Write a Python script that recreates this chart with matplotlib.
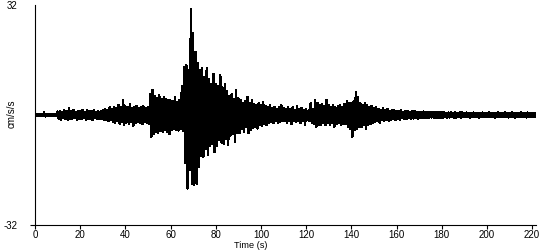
import numpy as np
import matplotlib
matplotlib.use("Agg")
import matplotlib.pyplot as plt

# envelope of the record, read at 1 s steps (cm/s/s)
time_s = np.arange(0, 222)

upper = [
    0.3, 0.3, 0.3, 0.3, 0.7, 0.3, 0.3, 0.3, 0.3, 0.3,
    1.0, 1.2, 0.9, 1.3, 1.1, 2.0, 1.0, 1.4, 0.9, 1.2,
    1.1, 1.5, 0.9, 1.3, 1.0, 1.2, 1.4, 0.9, 1.1, 1.0,
    1.4, 1.8, 1.3, 2.2, 1.6, 2.4, 2.0, 3.0, 2.2, 4.4,
    2.5, 2.2, 3.1, 2.0, 2.4, 2.6, 1.9, 2.3, 2.5, 2.0,
    2.4, 6.0, 7.3, 5.5, 4.8, 5.8, 4.6, 5.2, 4.5, 4.4,
    4.2, 4.0, 5.3, 3.8, 4.4, 8.4, 14.0, 14.5, 13.0, 30.8,
    23.8, 18.4, 15.0, 13.0, 13.5, 11.0, 13.6, 10.5, 9.0, 12.0,
    9.0, 8.5, 11.6, 8.0, 9.0, 7.0, 5.5, 6.0, 4.6, 7.3,
    4.8, 4.4, 3.5, 4.0, 5.3, 3.6, 4.2, 3.3, 2.8, 3.4,
    2.8, 3.7, 2.6, 2.3, 2.9, 2.0, 2.4, 1.8, 2.2, 2.8,
    2.0, 1.6, 2.3, 1.8, 2.2, 1.5, 2.6, 1.7, 2.0, 1.5,
    1.6, 1.3, 3.4, 1.8, 4.4, 3.5, 3.0, 3.2, 2.5, 4.4,
    3.0, 2.4, 2.9, 2.2, 2.6, 3.0, 2.4, 3.2, 3.9, 3.4,
    3.6, 3.9, 6.6, 5.3, 3.4, 3.0, 3.4, 2.8, 2.4, 2.6,
    2.0, 2.4, 1.8, 1.5, 1.9, 1.4, 1.7, 1.2, 1.5, 1.3,
    1.2, 1.0, 1.3, 0.9, 1.1, 1.2, 0.9, 1.0, 1.1, 0.8,
    0.9, 0.8, 1.0, 0.7, 0.9, 0.8, 0.9, 0.7, 0.8, 0.9,
    0.7, 0.8, 0.6, 0.7, 0.8, 0.6, 0.7, 0.6, 0.7, 0.8,
    0.6, 0.7, 0.5, 0.6, 0.7, 0.6, 0.5, 0.6, 0.7, 0.6,
    0.6, 0.7, 0.5, 0.6, 0.6, 0.7, 0.5, 0.6, 0.7, 0.6,
    0.6, 0.7, 0.6, 0.5, 0.6, 0.7, 0.6, 0.6, 0.7, 0.6,
    0.6, 0.6,
]

lower = [
    -0.3, -0.3, -0.3, -0.3, -0.4, -0.3, -0.3, -0.3, -0.3, -0.3,
    -1.0, -1.3, -0.9, -1.1, -1.4, -1.0, -1.2, -0.9, -1.3, -1.0,
    -1.2, -0.9, -1.3, -1.0, -1.1, -1.4, -0.9, -1.0, -1.2, -1.1,
    -1.3, -1.5, -1.8, -1.4, -2.0, -2.4, -1.8, -2.6, -2.0, -2.8,
    -2.2, -2.6, -2.0, -3.2, -2.4, -2.0, -2.3, -2.6, -1.9, -2.2,
    -2.5, -6.3, -5.4, -4.8, -5.2, -4.6, -4.9, -4.2, -4.8, -5.6,
    -4.4, -4.0, -4.3, -4.5, -4.0, -4.6, -14.0, -21.4, -16.0, -20.0,
    -20.4, -20.0, -15.0, -12.0, -12.2, -10.0, -11.5, -9.0, -8.5, -10.8,
    -9.0, -7.3, -8.0, -8.3, -7.0, -8.7, -6.0, -5.4, -7.8, -5.3,
    -5.3, -4.0, -4.8, -3.6, -5.3, -4.2, -3.8, -3.5, -3.9, -3.0,
    -3.2, -2.6, -3.0, -2.2, -2.0, -2.4, -1.7, -2.3, -2.0, -1.8,
    -1.8, -2.2, -1.6, -2.6, -1.7, -2.0, -1.6, -2.3, -1.8, -3.0,
    -1.5, -1.7, -2.4, -2.6, -3.4, -2.8, -3.0, -2.4, -2.9, -2.2,
    -2.8, -2.2, -3.4, -2.6, -2.4, -3.0, -2.7, -2.5, -3.4, -3.9,
    -6.3, -4.4, -4.0, -3.6, -3.4, -2.8, -3.9, -3.0, -2.6, -2.4,
    -2.0, -1.7, -2.2, -1.5, -1.8, -1.3, -1.6, -1.4, -1.2, -1.5,
    -1.1, -1.3, -0.9, -1.2, -1.0, -0.9, -1.1, -1.0, -0.8, -1.0,
    -0.8, -0.9, -0.7, -0.9, -0.8, -0.7, -0.9, -0.8, -0.7, -0.8,
    -0.7, -0.6, -0.8, -0.7, -0.6, -0.7, -0.8, -0.6, -0.7, -0.6,
    -0.6, -0.5, -0.7, -0.6, -0.5, -0.6, -0.7, -0.5, -0.6, -0.5,
    -0.6, -0.5, -0.6, -0.7, -0.5, -0.6, -0.6, -0.5, -0.6, -0.7,
    -0.6, -0.5, -0.7, -0.6, -0.6, -0.5, -0.6, -0.7, -0.5, -0.6,
    -0.6, -0.5,
]

x_ticks = [0, 20, 40, 60, 80, 100, 120, 140, 160, 180, 200, 220]
y_ticks = [-32, 32]

plt.rcParams["font.family"] = ["Liberation Sans", "DejaVu Sans"]
plt.rcParams["axes.unicode_minus"] = False

# alternate upper / lower peaks so the trace looks like the record
trace_t = np.empty(2 * len(time_s))
trace_t[0::2] = time_s
trace_t[1::2] = time_s + 0.5
trace_v = np.empty(2 * len(time_s))
trace_v[0::2] = upper
trace_v[1::2] = lower

fig = plt.figure(figsize=(5.5, 2.5), dpi=100)
ax = fig.add_axes([35 / 550, 0.1, 500.7 / 550, 0.88])

ax.plot(trace_t, trace_v, color="black", linewidth=1.0, antialiased=False)

ax.set_xlim(0, 221.6)
ax.set_ylim(-32, 32)
ax.set_xticks(x_ticks)
ax.set_yticks(y_ticks)
ax.tick_params(axis="both", labelsize=7, color="black", width=0.8)
ax.tick_params(axis="x", length=2.8, pad=0.8)
ax.tick_params(axis="y", length=3.6, pad=9)
ax.yaxis.get_major_ticks()[1].tick1line.set_visible(False)

for side in ["top", "right"]:
    ax.spines[side].set_visible(False)
for side in ["left", "bottom"]:
    ax.spines[side].set_linewidth(0.8)

fig.text(12 / 550, 1 - 114 / 250, "cm/s/s", rotation=90, fontsize=7,
         ha="center", va="center")
fig.text(250.5 / 550, 0.3 / 250, "Time (s)", fontsize=6.6,
         ha="center", va="bottom")

fig.savefig("out.png", dpi=100)
